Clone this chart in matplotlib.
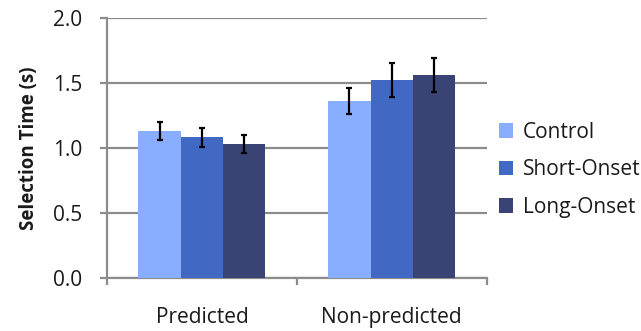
import matplotlib
matplotlib.use("Agg")
import matplotlib.pyplot as plt
import numpy as np

categories = ["Predicted", "Non-predicted"]
series_names = ["Control", "Short-Onset", "Long-Onset"]
means = {
    "Control": [1.13, 1.36],
    "Short-Onset": [1.08, 1.52],
    "Long-Onset": [1.03, 1.56],
}
errors = {
    "Control": [0.07, 0.10],
    "Short-Onset": [0.074, 0.132],
    "Long-Onset": [0.066, 0.133],
}
colors = ["#8AAEFF", "#4169C4", "#3A4474"]
yticks = [0.0, 0.5, 1.0, 1.5, 2.0]

plt.rcParams["font.family"] = ["Open Sans", "DejaVu Sans"]

fig = plt.figure(figsize=(6.41, 3.31), dpi=100)
ax = fig.add_axes([0.1669, 0.1592, 0.7593 - 0.1669, 0.9471 - 0.1592])

grid_col = "#8C8C8C"
text_col = "#1a1a1a"
x = np.arange(len(categories))
width = 0.223
for i, (name, col) in enumerate(zip(series_names, colors)):
    pos = x + (i - 1) * width
    ax.bar(pos, means[name], width=width, color=col, label=name, zorder=3,
           linewidth=0)
    ax.errorbar(pos, means[name], yerr=errors[name], fmt="none",
                ecolor="black", elinewidth=1.6, capsize=2.2, capthick=1.6,
                zorder=4)

ax.set_xlim(-0.5, 1.5)
ax.set_ylim(0, 2.0)
ax.set_yticks(yticks)
ax.set_yticklabels([f"{v:.1f}" for v in yticks])
ax.yaxis.grid(True, color=grid_col, linewidth=1.6, zorder=0)
ax.set_axisbelow(True)

ax.set_xticks(x)
ax.set_xticklabels(categories)
ax.set_xticks([-0.5, 0.5, 1.5], minor=True)
ax.tick_params(axis="x", which="major", length=0, pad=21, labelsize=15,
               colors=text_col)
ax.tick_params(axis="x", which="minor", length=5, width=1.6, color=grid_col)
ax.tick_params(axis="y", length=5, width=1.6, color=grid_col, labelsize=15,
               pad=13, labelcolor=text_col)

for side in ["top", "right"]:
    ax.spines[side].set_visible(False)
for side in ["left", "bottom"]:
    ax.spines[side].set_color(grid_col)
    ax.spines[side].set_linewidth(1.6)

ax.set_ylabel("Selection Time (s)", fontsize=13.5, fontweight="bold",
              color=text_col)
ax.yaxis.set_label_coords(-0.18, 0.5)

leg = fig.legend(loc="center left", bbox_to_anchor=(0.765, 0.487),
                 frameon=False, fontsize=15, handlelength=0.7,
                 handleheight=0.7, handletextpad=0.45, labelspacing=0.78,
                 borderaxespad=0, labelcolor=text_col)

fig.savefig("out.png", dpi=100)
